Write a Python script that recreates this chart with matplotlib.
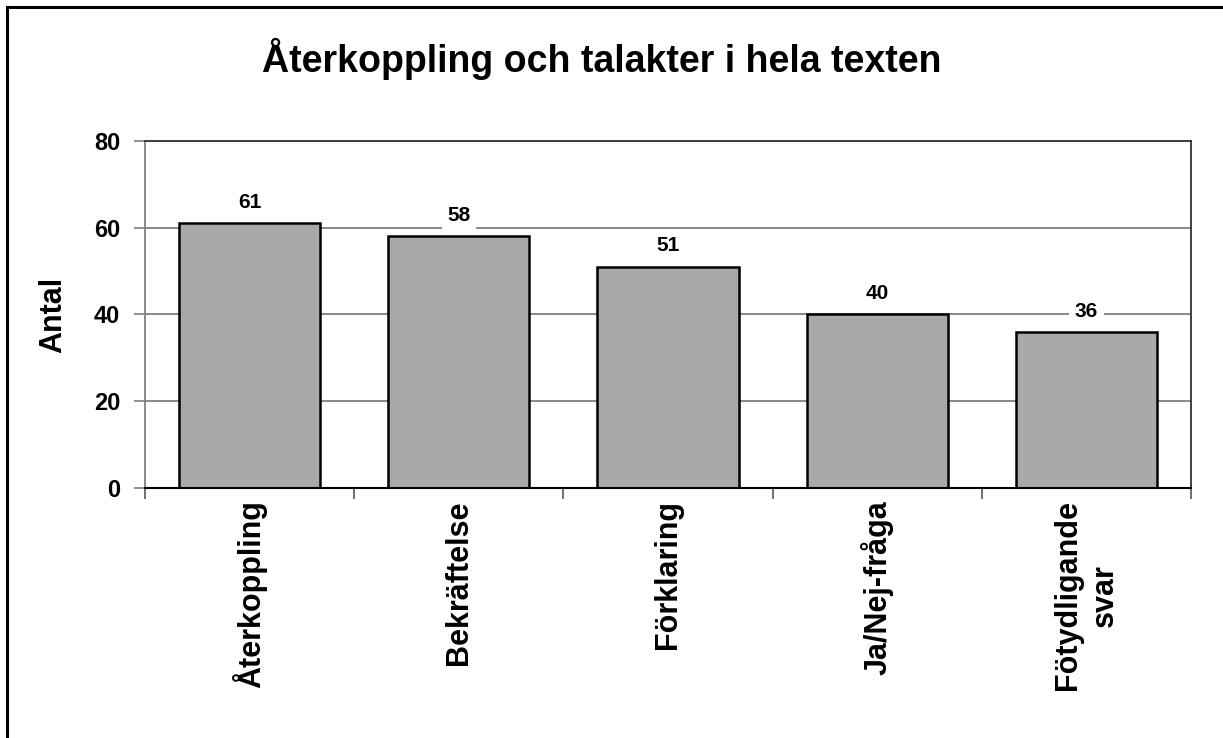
import numpy as np
import matplotlib.pyplot as plt
from matplotlib.patches import Rectangle

# Data
categories = ["Återkoppling", "Bekräftelse", "Förklaring", "Ja/Nej-fråga", "Fötydligande\nsvar"]
values = [61, 58, 51, 40, 36]
yticks = [0, 20, 40, 60, 80]

plt.rcParams["font.family"] = ["Liberation Sans", "DejaVu Sans"]
plt.rcParams["font.weight"] = "bold"

fig = plt.figure(figsize=(12.23, 7.38), dpi=100)
ax = fig.add_axes([0.1186, 0.3388, 0.8552, 0.4701])

x = np.arange(len(categories))
ax.bar(x, values, width=0.675, color="#a9a9a9", edgecolor="black", linewidth=1.8, zorder=3)

# ---------------------------
# Axes styling
# ---------------------------
ax.set_xlim(-0.5, len(categories) - 0.5)
ax.set_ylim(0, 80)
ax.set_yticks(yticks)
ax.set_yticklabels([str(v) for v in yticks], fontsize=17, fontweight="bold")
ax.yaxis.grid(True, color="#808080", linewidth=1.3, zorder=0)

ax.set_xticks(x)
ax.set_xticklabels(categories, rotation=90, fontsize=22, fontweight="bold", linespacing=1.3)
ax.set_xticks(np.arange(len(categories) + 1) - 0.5, minor=True)
ax.tick_params(axis="x", which="major", length=0, pad=9)
ax.tick_params(axis="x", which="minor", length=8, width=1.2, color="#555555")
ax.tick_params(axis="y", length=8, width=1.2, color="#808080", pad=10)

ax.spines["left"].set_color("#808080")
ax.spines["left"].set_linewidth(1.3)
ax.spines["bottom"].set_color("black")
ax.spines["bottom"].set_linewidth(1.5)
ax.spines["top"].set_color("#333333")
ax.spines["top"].set_linewidth(1.3)
ax.spines["right"].set_color("#333333")
ax.spines["right"].set_linewidth(1.3)
ax.spines["bottom"].set_zorder(4)

ax.set_ylabel("Antal", fontsize=22, fontweight="bold", labelpad=18)

# Value labels
for xi, v in zip(x, values):
    ax.annotate(str(v), (xi, v), xytext=(0, 15), textcoords="offset points",
                ha="center", va="center", fontsize=15, fontweight="bold",
                bbox=dict(facecolor="white", edgecolor="none", pad=4), zorder=5)

fig.suptitle("Återkoppling och talakter i hela texten", fontsize=27, fontweight="bold",
             x=0.492, y=0.92, va="center")

# Outer frame (right/bottom edges fall outside the picture)
fig.patches.append(Rectangle((7 / 1223, -0.1), 1.2, 1 - 7 / 738 + 0.1,
                             transform=fig.transFigure, fill=False,
                             edgecolor="black", linewidth=2.2))

fig.savefig("out.png", dpi=100)
